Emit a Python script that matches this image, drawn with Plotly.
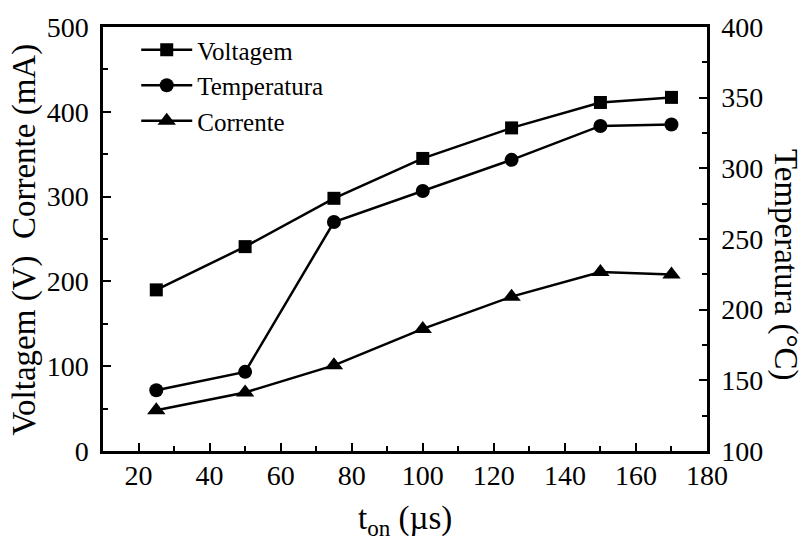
import plotly.graph_objects as go

# pulse on-time (µs)
t_on = [25, 50, 75, 100, 125, 150, 170]

# left axis series
voltagem = [190, 241, 298, 345, 381, 411, 417]      # V
corrente = [48, 69, 101, 144, 182, 211, 208]        # mA

# right axis series
temperatura = [143, 156, 262, 284, 306, 330, 331]   # °C

FONT = "Liberation Serif"
LINE = dict(color="black", width=2.5)

fig = go.Figure()
fig.add_trace(go.Scatter(
    x=t_on, y=voltagem, name="Voltagem", mode="lines+markers",
    line=LINE, marker=dict(symbol="square", size=13, color="black"),
))
fig.add_trace(go.Scatter(
    x=t_on, y=temperatura, name="Temperatura", mode="lines+markers",
    line=LINE, marker=dict(symbol="circle", size=14, color="black"),
    yaxis="y2",
))
fig.add_trace(go.Scatter(
    x=t_on, y=corrente, name="Corrente", mode="lines+markers",
    line=LINE, marker=dict(symbol="triangle-up", size=16, color="black"),
))

axis_common = dict(
    showgrid=False, zeroline=False, showline=True, linecolor="black",
    linewidth=2.5, ticks="inside", tickcolor="black", tickwidth=2,
    ticklen=8, tickfont=dict(family=FONT, size=28, color="black"),
)

fig.update_layout(
    width=804, height=540,
    margin=dict(l=103, r=97, t=22, b=89),
    paper_bgcolor="white", plot_bgcolor="white",
    font=dict(family=FONT, color="black"),
    showlegend=True,
    legend=dict(
        x=0.055, y=1.0, xanchor="left", yanchor="top",
        bgcolor="rgba(0,0,0,0)", font=dict(family=FONT, size=25),
        itemwidth=51, tracegroupgap=0,
    ),
    xaxis=dict(
        **axis_common, range=[10, 180], tick0=20, dtick=20, mirror=True,
        minor=dict(ticks="inside", ticklen=5, tickwidth=2, tickcolor="black", dtick=10, tick0=10),
        ticklabelstandoff=-2,
    ),
    yaxis=dict(
        **axis_common, range=[0, 500], dtick=100,
        minor=dict(ticks="inside", ticklen=5, tickwidth=2, tickcolor="black", dtick=50),
        ticklabelstandoff=6,
    ),
    yaxis2=dict(
        **axis_common, range=[100, 400], dtick=50, overlaying="y", side="right",
        minor=dict(ticks="inside", ticklen=5, tickwidth=2, tickcolor="black", dtick=25),
        ticklabelstandoff=6,
    ),
    annotations=[
        dict(text="Voltagem (V)  Corrente (mA)", xref="paper", yref="paper",
             x=-0.13, y=0.5, xanchor="center", yanchor="middle",
             textangle=-90, showarrow=False,
             font=dict(family=FONT, size=33)),
        dict(text="Temperatura (°C)", xref="paper", yref="paper",
             x=1.13, y=0.44, xanchor="center", yanchor="middle",
             textangle=90, showarrow=False,
             font=dict(family=FONT, size=33)),
        dict(text="t<sub>on</sub> (µs)", xref="paper", yref="paper",
             x=0.5, y=-0.163, xanchor="center", yanchor="middle", showarrow=False,
             font=dict(family=FONT, size=33)),
    ],
)

fig.write_html("out.html")
